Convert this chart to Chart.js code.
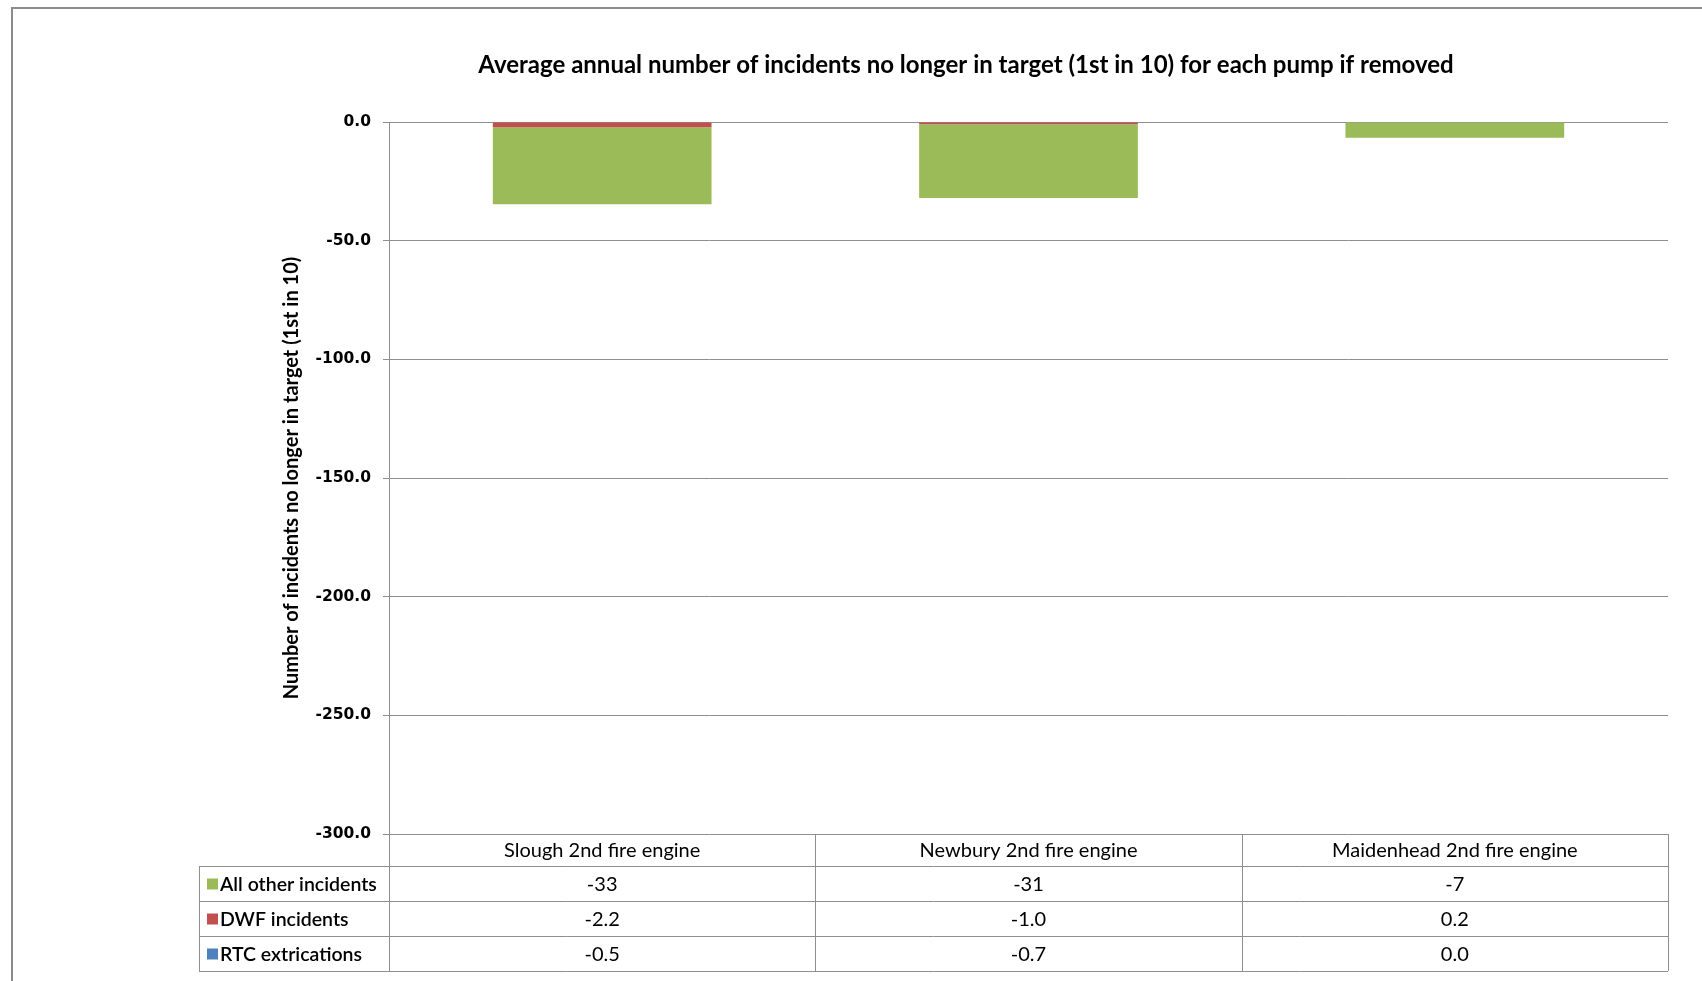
<!DOCTYPE html>
<html>
<head>
<meta charset="utf-8">
<script src="https://cdn.jsdelivr.net/npm/chart.js@4.4.0/dist/chart.umd.min.js"></script>
<style>
    html, body { margin: 0; padding: 0; width: 1702px; height: 981px; overflow: hidden; background: #fff; }
    #frame { position: absolute; left: 11px; top: 7px; width: 1906px; height: 1000px; border: 2px solid #8c8c8c; }
    #frame canvas { display: block; }
</style>
</head>
<body>
<div id="frame"><canvas id="chartCanvas" width="1906" height="990"></canvas></div>
<script>
const chartTitle = 'Average annual number of incidents no longer in target (1st in 10) for each pump if removed';
const yAxisTitle = 'Number of incidents no longer in target (1st in 10)';
const categories = ['Slough 2nd fire engine', 'Newbury 2nd fire engine', 'Maidenhead 2nd fire engine'];
const rtcValues = [-0.5, -0.7, 0.0];
const dwfValues = [-2.2, -1.0, 0.2];
const otherValues = [-32.5, -31, -6.6];
const yMin = -300;
const yMax = 0;
const yStep = 50;

const lineColor = '#8f8f8f';
const textFont = 'Lato, "Open Sans", sans-serif';

// title is drawn centred on the whole chart frame, like the Excel original
const titlePlugin = {
    id: 'frameTitle',
    afterDraw(chart) {
        const ctx = chart.ctx;
        ctx.save();
        ctx.font = 'bold 24px ' + textFont;
        ctx.fillStyle = '#000';
        ctx.textAlign = 'center';
        ctx.textBaseline = 'middle';
        ctx.fillText(chartTitle, chart.width / 2, 56);
        ctx.restore();
    }
};

// data table under the plot (legend keys + values per category)
const dataTablePlugin = {
    id: 'dataTable',
    afterDraw(chart) {
        const ctx = chart.ctx;
        const area = chart.chartArea;
        const x = chart.scales.x;
        const headerH = 32;
        const rowH = 35;
        const legendLeft = 186;
        const rows = chart.data.datasets.slice().reverse();
        const rowsTop = area.bottom + headerH;
        const bottom = rowsTop + rowH * rows.length;
        const half = (x.getPixelForValue(1) - x.getPixelForValue(0)) / 2;

        ctx.save();
        ctx.strokeStyle = lineColor;
        ctx.lineWidth = 1;
        ctx.beginPath();
        for (let i = 0; i <= rows.length; i++) {
            const y = Math.round(rowsTop + i * rowH) + 0.5;
            ctx.moveTo(legendLeft, y);
            ctx.lineTo(area.right, y);
        }
        const edges = [area.left].concat(categories.map((c, i) => x.getPixelForValue(i) + half));
        edges.forEach(e => {
            const xx = Math.round(e) + 0.5;
            ctx.moveTo(xx, area.bottom);
            ctx.lineTo(xx, bottom);
        });
        ctx.moveTo(legendLeft + 0.5, rowsTop);
        ctx.lineTo(legendLeft + 0.5, bottom);
        ctx.stroke();

        ctx.textBaseline = 'middle';
        rows.forEach((ds, r) => {
            const cy = rowsTop + rowH * r + rowH / 2;
            ctx.fillStyle = ds.backgroundColor;
            ctx.fillRect(legendLeft + 8, cy - 5, 11, 11);
            ctx.fillStyle = '#000';
            ctx.textAlign = 'left';
            ctx.font = '600 19.5px ' + textFont;
            ctx.fillText(ds.label, legendLeft + 21, cy + 1);
            ctx.textAlign = 'center';
            ctx.font = '20px ' + textFont;
            ds.data.forEach((v, i) => {
                ctx.fillText(v.toFixed(ds.decimals), x.getPixelForValue(i), cy + 1);
            });
        });
        ctx.restore();
    }
};

new Chart(document.getElementById('chartCanvas').getContext('2d'), {
    type: 'bar',
    data: {
        labels: categories,
        datasets: [
            // RTC bars are not visible in the original plot, only in its data table
            { label: 'RTC extrications', data: rtcValues, backgroundColor: '#4f81bd', decimals: 1, hidden: true },
            { label: 'DWF incidents', data: dwfValues, backgroundColor: '#c0504d', decimals: 1 },
            { label: 'All other incidents', data: otherValues, backgroundColor: '#9bbb59', decimals: 0 }
        ]
    },
    options: {
        responsive: false,
        animation: false,
        layout: { padding: { top: 113, right: 251, bottom: 0, left: 0 } },
        datasets: { bar: { barPercentage: 0.513, categoryPercentage: 1, borderWidth: 0 } },
        plugins: {
            legend: { display: false },
            title: { display: false },
            tooltip: { enabled: false }
        },
        scales: {
            x: {
                stacked: true,
                afterFit(scale) { scale.height = 165; },
                grid: { display: false, drawTicks: false },
                border: { display: false },
                ticks: { color: '#000', padding: 5, font: { family: textFont, size: 20 }, maxRotation: 0 }
            },
            y: {
                stacked: true,
                min: yMin,
                max: yMax,
                afterFit(scale) { scale.width = 376; },
                ticks: {
                    stepSize: yStep,
                    color: '#000',
                    padding: 12,
                    font: { family: '"DejaVu Sans", sans-serif', size: 15.5, weight: 'bold' },
                    callback: v => v.toFixed(1)
                },
                grid: { color: lineColor, lineWidth: 1, tickLength: 6, drawTicks: true },
                border: { display: true, color: lineColor, width: 1 },
                title: {
                    display: true,
                    text: yAxisTitle,
                    color: '#000',
                    font: { family: textFont, size: 20, weight: 'bold' },
                    padding: { top: 267, bottom: 0 }
                }
            }
        }
    },
    plugins: [titlePlugin, dataTablePlugin]
});
</script>
</body>
</html>
